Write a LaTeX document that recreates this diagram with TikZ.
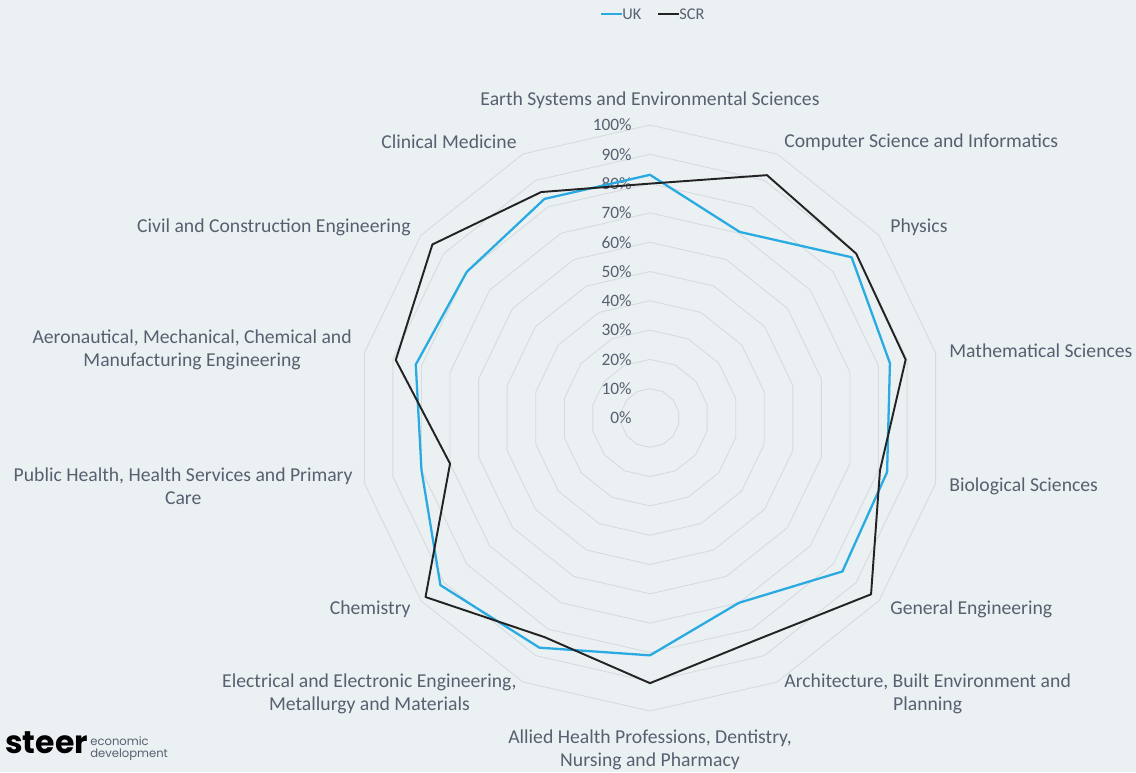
\documentclass[tikz,border=0pt]{standalone}
\usepackage{fontspec}
\setmainfont{Carlito}
\newfontfamily\logofont{Poppins}
\usepackage{tikz}

\definecolor{bgcol}{RGB}{235,240,243}
\definecolor{gridcol}{RGB}{214,219,223}
\definecolor{ukblue}{RGB}{41,171,226}
\definecolor{scrblack}{RGB}{35,35,35}
\definecolor{txtcol}{RGB}{88,96,112}

\begin{document}
\begin{tikzpicture}[x=0.02cm,y=-0.02cm,
    lbl/.style={text=txtcol,font=\fontsize{11.2}{13.1}\selectfont,inner sep=0pt},
    pctlbl/.style={text=txtcol,font=\fontsize{9.9}{12}\selectfont,inner sep=0pt},
    sublbl/.style={anchor=base west,inner sep=0pt,text=txtcol,font=\logofont\fontsize{6.6}{7}\selectfont},
    ring/.style={draw=gridcol,line width=0.5pt},
    ukline/.style={draw=ukblue,line width=1.3pt,line join=round},
    scrline/.style={draw=scrblack,line width=1.1pt,line join=round}]
    \fill[bgcol] (0,0) rectangle (1136,772);
    \useasboundingbox (0,0) rectangle (1136,772);
    \coordinate (O) at (650,418);

    % grid rings
    \begin{scope}[shift={(O)}]
        \foreach \r in {1,...,10}
            \draw[ring] (-90:{\r*29.3}) \foreach \k in {1,...,13}{ -- ({\k*360/14-90}:{\r*29.3})} -- cycle;
        \foreach \v [count=\k from 0] in {83,70.5,88,84,83,84,70,81,87,91.5,80,82,80,83}
            \coordinate (uk\k) at ({\k*360/14-90}:{\v*2.93});
        \foreach \v [count=\k from 0] in {80,92,90,89.5,80.5,96.5,84,90.5,83,98,70,89,95,85.6}
            \coordinate (scr\k) at ({\k*360/14-90}:{\v*2.93});
    \end{scope}

    % percentages
    \foreach \i in {0,...,10}{
        \pgfmathtruncatemacro\p{\i*10}
        \node[pctlbl,anchor=east] (pct\i) at (632,{418-29.3*\i}) {\p\%};
    }

    % series
    \draw[ukline] (uk0) \foreach \k in {1,...,13}{ -- (uk\k)} -- cycle;
    \draw[scrline] (scr0) \foreach \k in {1,...,13}{ -- (scr\k)} -- cycle;

    % axis labels
    \node[lbl] (lEarth) at (650,100) {Earth Systems and Environmental Sciences};
    \node[lbl,anchor=west] (lComp) at (784,142) {Computer Science and Informatics};
    \node[lbl,anchor=west] (lPhys) at (890,227) {Physics};
    \node[lbl,anchor=west] (lMath) at (949,351) {Mathematical Sciences};
    \node[lbl,anchor=west] (lBio) at (949,486) {Biological Sciences};
    \node[lbl,anchor=west] (lGen) at (890,609) {General Engineering};
    \node[lbl,anchor=west,align=center] (lArch) at (784,694) {Architecture, Built Environment and\\Planning};
    \node[lbl,align=center] (lAllied) at (650,750) {Allied Health Professions, Dentistry,\\Nursing and Pharmacy};
    \node[lbl,anchor=east,align=center] (lElec) at (517,694) {Electrical and Electronic Engineering,\\Metallurgy and Materials};
    \node[lbl,anchor=east] (lChem) at (411,609) {Chemistry};
    \node[lbl,anchor=east,align=center] (lPub) at (353,486) {Public Health, Health Services and Primary\\Care};
    \node[lbl,anchor=east,align=center] (lAero) at (352,350) {Aeronautical, Mechanical, Chemical and\\Manufacturing Engineering};
    \node[lbl,anchor=east] (lCivil) at (411,227) {Civil and Construction Engineering};
    \node[lbl,anchor=east] (lClin) at (517,142) {Clinical Medicine};

    % legend
    \node[lbl,anchor=west,font=\fontsize{9.3}{10}\selectfont] (legUK) at (622,14) {UK};
    \draw[ukline] (legUK.west) -- ++(-21,0);
    \node[lbl,anchor=west,font=\fontsize{9.3}{10}\selectfont] (legSCR) at (679,14) {SCR};
    \draw[scrline] (legSCR.west) -- ++(-21,0);

    % logo
    \node[anchor=west,inner sep=0pt,font=\logofont\bfseries\fontsize{17.9}{18}\selectfont] (logo) at (5,743) {steer};
    \node[sublbl] (logoEco) at (90,745) {economic};
    \node[sublbl] (logoDev) at (90,757) {development};
\end{tikzpicture}
\end{document}
